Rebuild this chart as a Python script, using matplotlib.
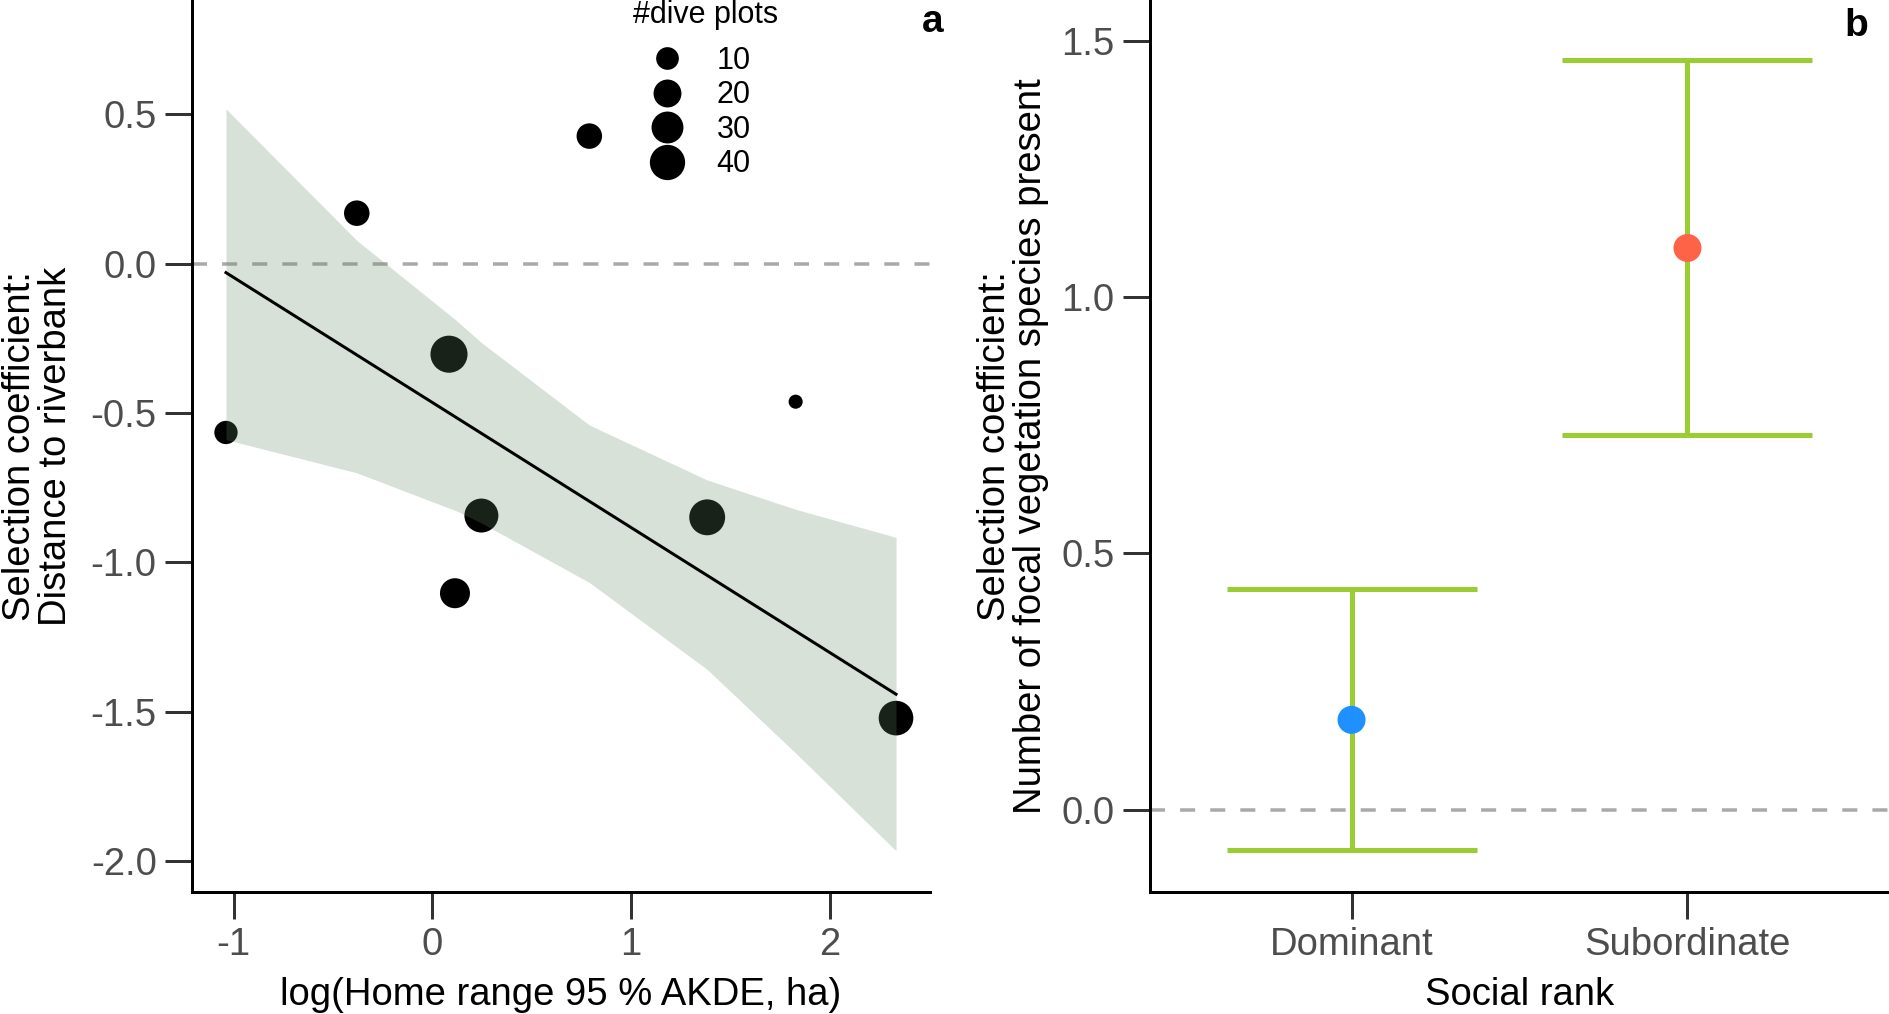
import numpy as np
import matplotlib
matplotlib.use("Agg")
import matplotlib.pyplot as plt
from matplotlib.lines import Line2D
from matplotlib.ticker import FormatStrFormatter

plt.rcParams['font.family'] = ['Liberation Sans', 'DejaVu Sans']
plt.rcParams['axes.unicode_minus'] = False

# ---------------- Panel a data ----------------
home_range_log = [-1.038, -0.380, 0.790, 0.084, 0.247, 0.114, 1.383, 1.828, 2.333]
selection_riverbank = [-0.565, 0.169, 0.427, -0.303, -0.843, -1.103, -0.849, -0.462, -1.521]
dive_plots = [11, 15, 15, 46, 36, 25, 42, 1, 38]

fit_intercept = -0.4645
fit_slope = -0.4186

ci_x = [-1.038, -0.380, 0.084, 0.114, 0.247, 0.790, 1.383, 1.828, 2.333]
ci_upper = [0.518, 0.078, -0.170, -0.186, -0.264, -0.540, -0.724, -0.822, -0.916]
ci_lower = [-0.589, -0.700, -0.818, -0.825, -0.868, -1.067, -1.358, -1.638, -1.965]

legend_sizes = [10, 20, 30, 40]
xticks_a = [-1, 0, 1, 2]
yticks_a = [-2.0, -1.5, -1.0, -0.5, 0.0, 0.5]

# ---------------- Panel b data ----------------
ranks = ['Dominant', 'Subordinate']
rank_estimate = [0.175, 1.096]
rank_lower = [-0.080, 0.731]
rank_upper = [0.430, 1.462]
rank_colors = ['#1E90FF', '#FF6347']
yticks_b = [0.0, 0.5, 1.0, 1.5]

# ---------------- styling ----------------
DPI = 100
PX = 72.0 / DPI  # points per pixel
FS = 27.5
TICK_KW = dict(length=27 * PX, width=3 * PX, color='#333333', labelcolor='#4D4D4D',
               labelsize=FS, pad=6)


def size_to_area(n):
    d_px = 10.1 + 3.98 * np.sqrt(np.asarray(n, dtype=float))
    return (d_px * PX) ** 2


fig = plt.figure(figsize=(18.89, 10.14), dpi=DPI)
ax_a = fig.add_axes([192 / 1889, 1 - 892 / 1014, (930 - 192) / 1889, 892 / 1014])
ax_b = fig.add_axes([1150 / 1889, 1 - 892 / 1014, (1889 - 1150) / 1889, 892 / 1014])

for ax in (ax_a, ax_b):
    for side in ('top', 'right'):
        ax.spines[side].set_visible(False)
    for side in ('left', 'bottom'):
        ax.spines[side].set_linewidth(3 * PX)
        ax.spines[side].set_color('black')
    ax.tick_params(**TICK_KW)
    ax.yaxis.set_major_formatter(FormatStrFormatter('%.1f'))

# ---- Panel a ----
ax_a.axhline(0, color='#A9A9A9', lw=3.5 * PX, dashes=(4.3, 4.3), zorder=1)
ax_a.scatter(home_range_log, selection_riverbank, s=size_to_area(dive_plots),
             color='black', linewidths=0, zorder=2)
ax_a.fill_between(ci_x, ci_lower, ci_upper, color=(99 / 255, 139 / 255, 103 / 255),
                  alpha=0.25, linewidth=0, zorder=3)
xfit = np.array([min(home_range_log), max(home_range_log)])
ax_a.plot(xfit, fit_intercept + fit_slope * xfit, color='black', lw=3 * PX, zorder=4)

ax_a.set_xlim(-1.209, 2.504)
ax_a.set_ylim(-2.103, 0.8825)
ax_a.set_xticks(xticks_a)
ax_a.set_yticks(yticks_a)
ax_a.xaxis.set_major_formatter(FormatStrFormatter('%d'))
ax_a.set_xlabel('log(Home range 95 % AKDE, ha)', fontsize=FS, labelpad=10)
ax_a.set_ylabel('Selection coefficient:\nDistance to riverbank', fontsize=FS,
                labelpad=12, linespacing=1.0)

handles = [Line2D([], [], linestyle='none', marker='o', color='black',
                  markeredgewidth=0, markersize=np.sqrt(a))
           for a in size_to_area(legend_sizes)]
leg = ax_a.legend(handles, [str(v) for v in legend_sizes], title='#dive plots',
                  loc='upper left', bbox_to_anchor=((633 - 192) / 738, 1.0), frameon=False,
                  fontsize=22, title_fontsize=22, handlelength=2.22, handletextpad=0.52,
                  labelspacing=0.145, borderpad=0, borderaxespad=0, alignment='left')
leg._legend_box.sep = 11.5

# ---- Panel b ----
xpos = np.arange(1, len(ranks) + 1)
est = np.array(rank_estimate)
ax_b.axhline(0, color='#A9A9A9', lw=3.5 * PX, dashes=(4.3, 4.3), zorder=1)
ax_b.errorbar(xpos, est, yerr=[est - np.array(rank_lower), np.array(rank_upper) - est],
              fmt='none', ecolor='#9ACD32', elinewidth=5 * PX, capsize=125 * PX,
              capthick=5 * PX, zorder=2)
ax_b.scatter(xpos, est, s=(28 * PX) ** 2, c=rank_colors, linewidths=0, zorder=3)
ax_b.set_xlim(0.4, 2.6)
ax_b.set_ylim(-0.161, 1.58)
ax_b.set_xticks(xpos)
ax_b.set_xticklabels(ranks)
ax_b.set_yticks(yticks_b)
ax_b.set_xlabel('Social rank', fontsize=FS, labelpad=10)
ax_b.set_ylabel('Selection coefficient:\nNumber of focal vegetation species present',
                fontsize=FS, labelpad=9, linespacing=1.0)

fig.text(933 / 1889, 1 - 22 / 1014, 'a', fontsize=28, fontweight='bold',
         ha='center', va='center')
fig.text(1856 / 1889, 1 - 26 / 1014, 'b', fontsize=28, fontweight='bold',
         ha='center', va='center')

fig.savefig('out.png', dpi=DPI)
